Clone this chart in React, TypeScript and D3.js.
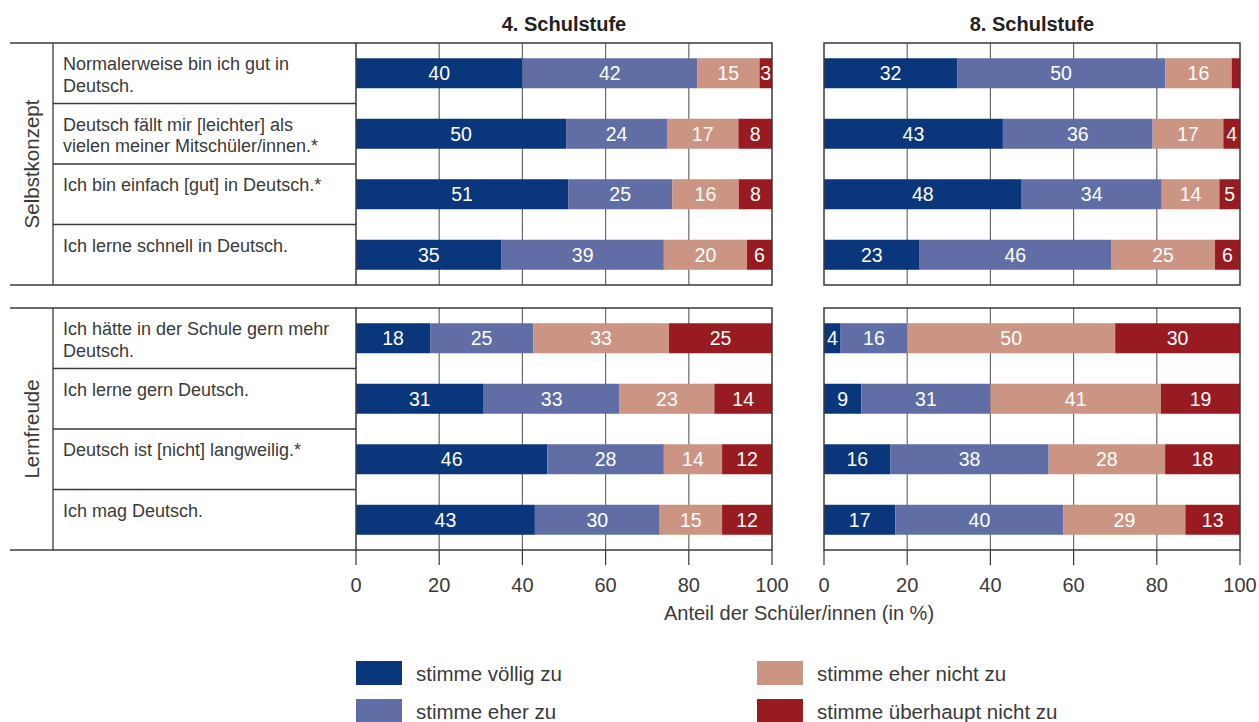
import React from "react";
import * as d3 from "d3";

// answer categories, in stacking order
const categories = [
  "stimme völlig zu",
  "stimme eher zu",
  "stimme eher nicht zu",
  "stimme überhaupt nicht zu",
];
const colors = ["#0a367c", "#606ea5", "#cc9483", "#971b21"];

const groups = ["Selbstkonzept", "Lernfreude"];

const items = [
  ["Normalerweise bin ich gut in", "Deutsch."],
  ["Deutsch fällt mir [leichter] als", "vielen meiner Mitschüler/innen.*"],
  ["Ich bin einfach [gut] in Deutsch.*"],
  ["Ich lerne schnell in Deutsch."],
  ["Ich hätte in der Schule gern mehr", "Deutsch."],
  ["Ich lerne gern Deutsch."],
  ["Deutsch ist [nicht] langweilig.*"],
  ["Ich mag Deutsch."],
];

const panels = ["4. Schulstufe", "8. Schulstufe"];

// values per item: völlig zu, eher zu, eher nicht zu, überhaupt nicht zu
const grade4 = [
  [40, 42, 15, 3],
  [50, 24, 17, 8],
  [51, 25, 16, 8],
  [35, 39, 20, 6],
  [18, 25, 33, 25],
  [31, 33, 23, 14],
  [46, 28, 14, 12],
  [43, 30, 15, 12],
];

const grade8 = [
  [32, 50, 16, 2],
  [43, 36, 17, 4],
  [48, 34, 14, 5],
  [23, 46, 25, 6],
  [4, 16, 50, 30],
  [9, 31, 41, 19],
  [16, 38, 28, 18],
  [17, 40, 29, 13],
];

const xTicks = [0, 20, 40, 60, 80, 100];
const axisTitle = "Anteil der Schüler/innen (in %)";

const FONT = "'Liberation Sans', Arial, sans-serif";
const LINE = "#3a3a3a";
const GRID = "#6a6a6a";
const TXT = "#3a3a3a";

const App: React.FC = () => {
  const blockTops = [43, 308];
  const blockH = 242;
  const barH = 30;

  const xScales = [
    d3.scaleLinear().domain([0, 100]).range([356, 772]),
    d3.scaleLinear().domain([0, 100]).range([824, 1240]),
  ];
  const data = [grade4, grade8];

  const rowScale = (g: number) =>
    d3
      .scaleBand<number>()
      .domain([0, 1, 2, 3].map((i) => g * 4 + i))
      .range([blockTops[g], blockTops[g] + blockH]);

  const axisY = blockTops[1] + blockH;

  return (
    <svg
      width={1259}
      height={722}
      style={{ position: "absolute", left: 0, top: 0, fontFamily: FONT }}
    >
      <rect width={1259} height={722} fill="#fff" />

      {/* panel titles */}
      {panels.map((p, pi) => (
        <text
          key={p}
          x={(xScales[pi].range()[0] + xScales[pi].range()[1]) / 2}
          y={31}
          textAnchor="middle"
          fontSize={20}
          fontWeight="bold"
          fill="#222"
        >
          {p}
        </text>
      ))}

      {groups.map((gname, g) => {
        const band = rowScale(g);
        const top = blockTops[g];
        const bottom = top + blockH;
        const rows = band.domain();
        return (
          <g key={gname}>
            {/* table on the left */}
            <line x1={10} x2={356} y1={top} y2={top} stroke={LINE} strokeWidth={1.3} />
            <line x1={10} x2={356} y1={bottom} y2={bottom} stroke={LINE} strokeWidth={1.3} />
            <line x1={53} x2={53} y1={top} y2={bottom} stroke={LINE} strokeWidth={1.3} />
            {rows.slice(1).map((r) => (
              <line
                key={r}
                x1={53}
                x2={356}
                y1={band(r)!}
                y2={band(r)!}
                stroke={LINE}
                strokeWidth={1.3}
              />
            ))}
            <text
              transform={`translate(39,${(top + bottom) / 2}) rotate(-90)`}
              textAnchor="middle"
              fontSize={20.5}
              fill={TXT}
            >
              {gname}
            </text>
            {rows.map((r) => (
              <text key={r} x={63} y={band(r)! + 27} fontSize={18} fill={TXT}>
                {items[r].map((ln, li) => (
                  <tspan key={li} x={63} dy={li === 0 ? 0 : 21.5}>
                    {ln}
                  </tspan>
                ))}
              </text>
            ))}

            {/* two panels */}
            {xScales.map((x, pi) => {
              const [x0, x1] = x.range();
              return (
                <g key={pi}>
                  {xTicks.slice(1, -1).map((t) => (
                    <line
                      key={t}
                      x1={x(t)}
                      x2={x(t)}
                      y1={top}
                      y2={bottom}
                      stroke={GRID}
                      strokeWidth={1.2}
                    />
                  ))}
                  {rows.map((r) => {
                    const vals = data[pi][r];
                    const total = d3.sum(vals);
                    let cum = 0;
                    const yb = band(r)! + (band.bandwidth() - barH) / 2;
                    return (
                      <g key={r}>
                        {vals.map((v, ci) => {
                          const a = x((cum / total) * 100);
                          cum += v;
                          const b = x((cum / total) * 100);
                          return (
                            <g key={ci}>
                              <rect x={a} y={yb} width={b - a} height={barH} fill={colors[ci]} />
                              {v >= 3 && (
                                <text
                                  x={(a + b) / 2}
                                  y={yb + barH / 2}
                                  dy="0.36em"
                                  textAnchor="middle"
                                  fontSize={19.5}
                                  fill="#fff"
                                >
                                  {v}
                                </text>
                              )}
                            </g>
                          );
                        })}
                      </g>
                    );
                  })}
                  <rect
                    x={x0}
                    y={top}
                    width={x1 - x0}
                    height={blockH}
                    fill="none"
                    stroke={LINE}
                    strokeWidth={1.5}
                  />
                </g>
              );
            })}
          </g>
        );
      })}

      {/* x axes */}
      {xScales.map((x, pi) => (
        <g key={pi}>
          {xTicks.map((t) => (
            <g key={t}>
              <line x1={x(t)} x2={x(t)} y1={axisY} y2={axisY + 15} stroke={LINE} strokeWidth={1.2} />
              <text
                x={x(t)}
                y={axisY + 35}
                dy="0.36em"
                textAnchor="middle"
                fontSize={20}
                fill={TXT}
              >
                {t}
              </text>
            </g>
          ))}
        </g>
      ))}
      <text x={799} y={613} dy="0.36em" textAnchor="middle" fontSize={20} fill={TXT}>
        {axisTitle}
      </text>

      {/* legend */}
      {categories.map((c, ci) => {
        const lx = ci < 2 ? 356 : 757;
        const ly = ci % 2 === 0 ? 661 : 699;
        return (
          <g key={c}>
            <rect x={lx} y={ly} width={46} height={24} fill={colors[ci]} />
            <text x={lx + 60} y={ly + 13} dy="0.36em" fontSize={20.5} fill={TXT}>
              {c}
            </text>
          </g>
        );
      })}
    </svg>
  );
};

export default App;
